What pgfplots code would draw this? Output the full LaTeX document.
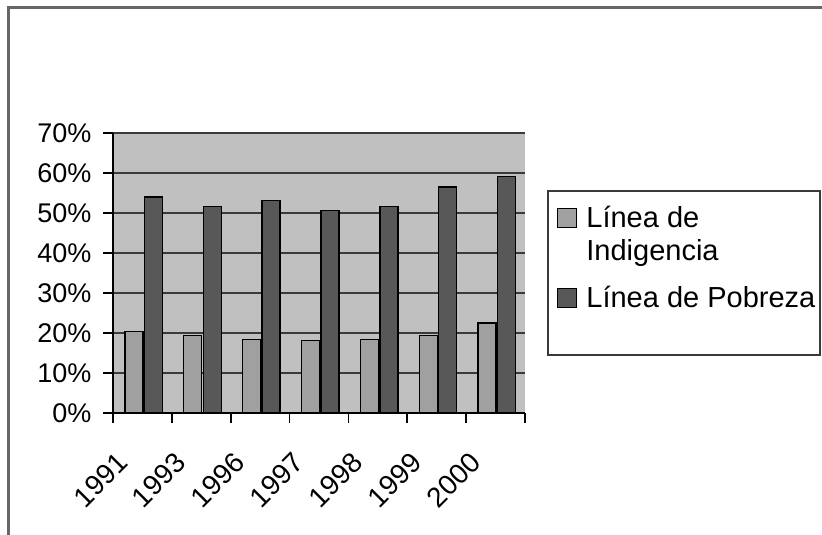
\documentclass[border=0pt]{standalone}
\usepackage{pgfplots}
\pgfplotsset{compat=1.18}
\usepackage{fontspec}
\setmainfont{Liberation Sans}
\definecolor{plotbg}{HTML}{C0C0C0}
\definecolor{gridc}{HTML}{3A3A3A}
\definecolor{lightbar}{HTML}{A0A0A0}
\definecolor{darkbar}{HTML}{585858}
\definecolor{framec}{HTML}{666666}
\begin{document}
\begin{tikzpicture}
\useasboundingbox (0,0) rectangle (822bp,535bp);
\draw[line width=3bp, framec] (8bp,0) -- (8bp,527bp) -- (822bp,527bp);
\draw[line width=2bp, gridc] (548bp,180bp) rectangle (820bp,344bp);
\begin{axis}[
  at={(113bp,122bp)}, anchor=south west,
  scale only axis, width=412bp, height=280bp,
  xmin=-0.5, xmax=6.5, ymin=0, ymax=70,
  axis background/.style={fill=plotbg},
  axis x line=bottom, axis y line=left,
  axis line style={-, line width=1.6bp, black},
  ybar, bar width=18bp,
  ytick={0,10,...,70},
  yticklabel={\pgfmathprintnumber{\tick}\%},
  ymajorgrids, grid style={gridc, line width=1.8bp},
  xtick={-0.5,0.5,1.5,2.5,3.5,4.5,5.5,6.5},
  xticklabels={},
  extra x ticks={0,1,2,3,4,5,6},
  extra x tick labels={1991,1993,1996,1997,1998,1999,2000},
  extra x tick style={grid=none, major tick length=0pt,
     tick label style={xshift=-20bp, yshift=-45bp, rotate=45, anchor=east, inner sep=0pt,
       font=\fontsize{28bp}{33bp}\selectfont}},
  tick align=outside, major tick length=10bp,
  tick style={black, line width=1.6bp},
  ticklabel style={font=\fontsize{27bp}{33bp}\selectfont},
  yticklabel style={xshift=-8bp},
  /pgf/number format/assume math mode=true,
  legend image code/.code={\draw[#1, line width=1.2bp] (0bp,0bp) rectangle (19bp,19bp);},
  legend style={at={(1.0777,0.75)}, anchor=north west, draw=none, fill=none,
     inner sep=0pt, column sep=9bp, row sep=0pt,
     font=\fontsize{29bp}{33bp}\selectfont,
     nodes={inner sep=0pt},
     cells={anchor=base west}},
]
\addplot[fill=lightbar, draw=black, line width=1.3bp, bar shift=-8.5bp] coordinates {
 (0,20.4) (1,19.4) (2,18.3) (3,18.2) (4,18.3) (5,19.4) (6,22.5)};
\addlegendentry[text height=24bp, text depth=9bp]{Línea de}
\addlegendimage{empty legend}
\addlegendentry[text height=24bp, text depth=23bp]{Indigencia}
\addplot[fill=darkbar, draw=black, line width=1.3bp, bar shift=11bp] coordinates {
 (0,54.0) (1,51.7) (2,53.2) (3,50.6) (4,51.7) (5,56.5) (6,59.2)};
\addlegendentry[text height=24bp, text depth=9bp]{Línea de Pobreza}
\end{axis}
\end{tikzpicture}
\end{document}
